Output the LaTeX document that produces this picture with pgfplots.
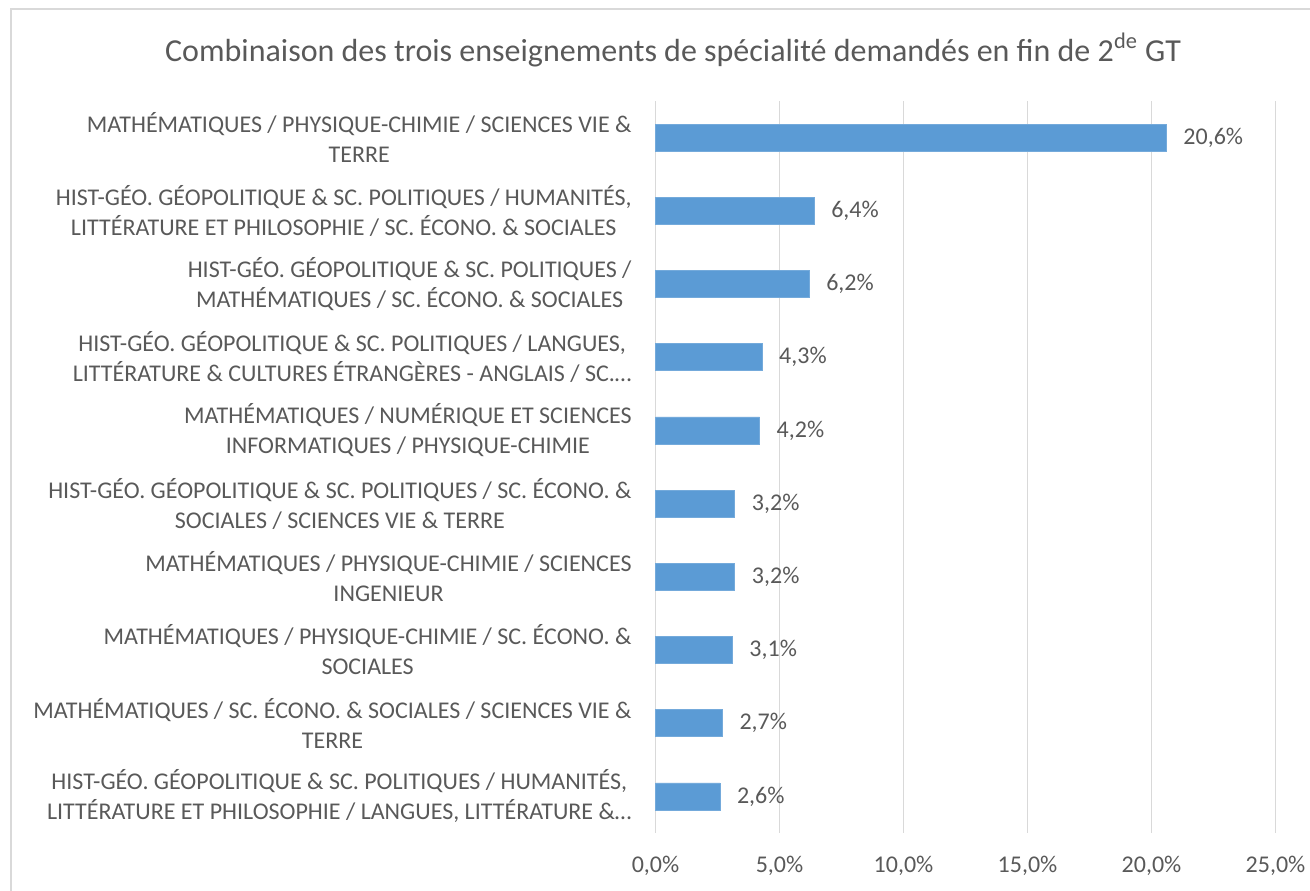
\documentclass[border=0pt]{standalone}
\usepackage{pgfplots}
\pgfplotsset{compat=1.18}
\usepackage{fontspec}
\setmainfont{Carlito}
\definecolor{barblue}{HTML}{5B9BD5}
\definecolor{gridgray}{HTML}{D9D9D9}
\definecolor{txtgray}{HTML}{595959}
\begin{document}
\begin{tikzpicture}[x=1pt,y=1pt]
\path[use as bounding box] (0,0) rectangle (655,445);
\draw[gridgray, line width=0.9pt] (5.5,-10) -- (5.5,440.5) -- (670,440.5);
\node[text=txtgray, font=\fontsize{16}{19}\selectfont] at (336.5,420) {Combinaison des trois enseignements de spécialité demandés en fin de 2\textsuperscript{de} GT};
\begin{axis}[
  at={(327.75pt,28.5pt)}, anchor=south west,
  scale only axis, width=310pt, height=366pt,
  xbar, bar width=13.5pt,
  xmin=0, xmax=25, ymin=-0.5, ymax=9.5, y dir=reverse,
  axis line style={draw=none},
  xmajorgrids, major grid style={gridgray, line width=0.85pt},
  major tick length=0pt,
  xtick={0,5,10,15,20,25},
  xticklabels={{0,0\%},{5,0\%},{10,0\%},{15,0\%},{20,0\%},{25,0\%}},
  xticklabel style={anchor=center, yshift=-16.5pt, text=txtgray, font=\fontsize{12}{14}\selectfont},
  ytick={0,...,9},
  yticklabels={
    {MATHÉMATIQUES / PHYSIQUE-CHIMIE / SCIENCES VIE \&\\TERRE},
    {HIST-GÉO. GÉOPOLITIQUE \& SC. POLITIQUES / HUMANITÉS,\\LITTÉRATURE ET PHILOSOPHIE / SC. ÉCONO. \& SOCIALES},
    {HIST-GÉO. GÉOPOLITIQUE \& SC. POLITIQUES /\\MATHÉMATIQUES / SC. ÉCONO. \& SOCIALES},
    {HIST-GÉO. GÉOPOLITIQUE \& SC. POLITIQUES / LANGUES,\\LITTÉRATURE \& CULTURES ÉTRANGÈRES - ANGLAIS / SC.…},
    {MATHÉMATIQUES / NUMÉRIQUE ET SCIENCES\\INFORMATIQUES / PHYSIQUE-CHIMIE},
    {HIST-GÉO. GÉOPOLITIQUE \& SC. POLITIQUES / SC. ÉCONO. \&\\SOCIALES / SCIENCES VIE \& TERRE},
    {MATHÉMATIQUES / PHYSIQUE-CHIMIE / SCIENCES\\INGENIEUR},
    {MATHÉMATIQUES / PHYSIQUE-CHIMIE / SC. ÉCONO. \&\\SOCIALES},
    {MATHÉMATIQUES / SC. ÉCONO. \& SOCIALES / SCIENCES VIE \&\\TERRE},
    {HIST-GÉO. GÉOPOLITIQUE \& SC. POLITIQUES / HUMANITÉS,\\LITTÉRATURE ET PHILOSOPHIE / LANGUES, LITTÉRATURE \&…}
  },
  yticklabel style={align=center, anchor=east, inner sep=0pt, xshift=-11.75pt, text=txtgray, font=\fontsize{12}{15}\selectfont},
  nodes near coords={\pgfmathprintnumber{\pgfplotspointmeta}\%},
  nodes near coords style={anchor=west, xshift=5pt, text=txtgray, font=\fontsize{12}{14}\selectfont,
    /pgf/number format/.cd, fixed, fixed zerofill, precision=1, use comma, assume math mode=true},
  point meta=x,
  clip=false,
]
\addplot[fill=barblue, draw=barblue!85!white, line width=0.4pt] coordinates {
  (20.6,0) (6.4,1) (6.2,2) (4.3,3) (4.2,4) (3.2,5) (3.2,6) (3.1,7) (2.7,8) (2.6,9)
};
\end{axis}
\end{tikzpicture}
\end{document}
